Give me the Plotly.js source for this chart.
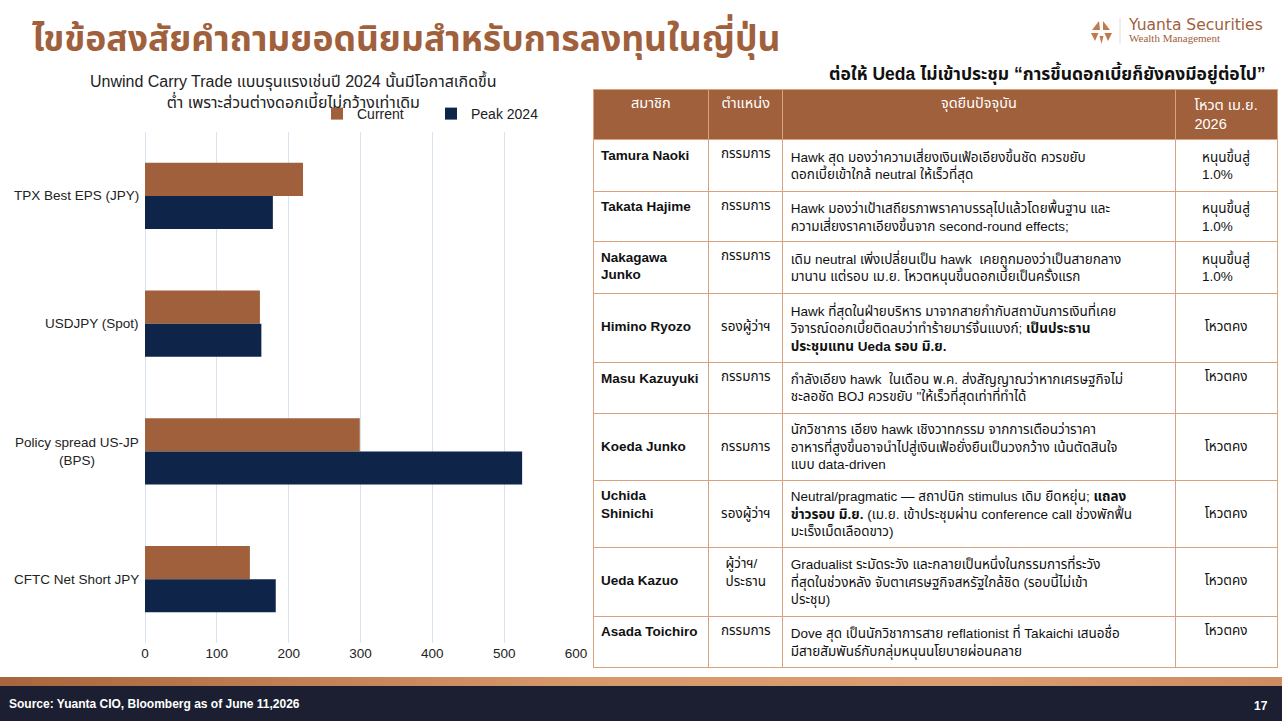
<!DOCTYPE html>
<html>
<head>
<meta charset="utf-8">
<script src="https://cdn.plot.ly/plotly-3.0.1.min.js"></script>
<style>
html,body{margin:0;padding:0;background:#fff;}
#chart{width:1282px;height:721px;}
</style>
</head>
<body>
<div id="chart"></div>
<script>
// ---- Chart data ----
const categories = ['TPX Best EPS (JPY)', 'USDJPY (Spot)', 'Policy spread US-JP<br>(BPS)', 'CFTC Net Short JPY'];
const currentValues = [220, 160, 299, 146];
const peak2024Values = [178, 162, 525, 182];
const seriesNames = ['Current', 'Peak 2024'];
const xTickValues = [0, 100, 200, 300, 400, 500, 600];

// ---- Table data ----
const tableHeaders = ['สมาชิก', 'ตำแหน่ง', 'จุดยืนปัจจุบัน', 'โหวต เม.ย.<br>2026'];
const members = ['Tamura Naoki', 'Takata Hajime', 'Nakagawa<br>Junko', 'Himino Ryozo', 'Masu Kazuyuki',
  'Koeda Junko', 'Uchida<br>Shinichi', 'Ueda Kazuo', 'Asada Toichiro'];
const positions = ['กรรมการ', 'กรรมการ', 'กรรมการ', 'รองผู้ว่าฯ', 'กรรมการ', 'กรรมการ', 'รองผู้ว่าฯ', 'ผู้ว่าฯ/<br>ประธาน', 'กรรมการ'];
const stances = [
  'Hawk สุด มองว่าความเสี่ยงเงินเฟ้อเอียงขึ้นชัด ควรขยับ<br>ดอกเบี้ยเข้าใกล้ neutral ให้เร็วที่สุด',
  'Hawk มองว่าเป้าเสถียรภาพราคาบรรลุไปแล้วโดยพื้นฐาน และ<br>ความเสี่ยงราคาเอียงขึ้นจาก second-round effects;',
  'เดิม neutral เพิ่งเปลี่ยนเป็น hawk  เคยถูกมองว่าเป็นสายกลาง<br>มานาน แต่รอบ เม.ย. โหวตหนุนขึ้นดอกเบี้ยเป็นครั้งแรก',
  'Hawk ที่สุดในฝ่ายบริหาร มาจากสายกำกับสถาบันการเงินที่เคย<br>วิจารณ์ดอกเบี้ยติดลบว่าทำร้ายมาร์จิ้นแบงก์; <b>เป็นประธาน</b><br><b>ประชุมแทน Ueda รอบ มิ.ย.</b>',
  'กำลังเอียง hawk  ในเดือน พ.ค. ส่งสัญญาณว่าหากเศรษฐกิจไม่<br>ชะลอชัด BOJ ควรขยับ "ให้เร็วที่สุดเท่าที่ทำได้',
  'นักวิชาการ เอียง hawk เชิงวาทกรรม จากการเตือนว่าราคา<br>อาหารที่สูงขึ้นอาจนำไปสู่เงินเฟ้อยั่งยืนเป็นวงกว้าง เน้นตัดสินใจ<br>แบบ data-driven',
  'Neutral/pragmatic — สถาปนิก stimulus เดิม ยืดหยุ่น; <b>แถลง</b><br><b>ข่าวรอบ มิ.ย.</b> (เม.ย. เข้าประชุมผ่าน conference call ช่วงพักฟื้น<br>มะเร็งเม็ดเลือดขาว)',
  'Gradualist ระมัดระวัง และกลายเป็นหนึ่งในกรรมการที่ระวัง<br>ที่สุดในช่วงหลัง จับตาเศรษฐกิจสหรัฐใกล้ชิด (รอบนี้ไม่เข้า<br>ประชุม)',
  'Dove สุด เป็นนักวิชาการสาย reflationist ที่ Takaichi เสนอชื่อ<br>มีสายสัมพันธ์กับกลุ่มหนุนนโยบายผ่อนคลาย'
];
const votes = ['หนุนขึ้นสู่<br>1.0%', 'หนุนขึ้นสู่<br>1.0%', 'หนุนขึ้นสู่<br>1.0%', 'โหวตคง', 'โหวตคง', 'โหวตคง', 'โหวตคง', 'โหวตคง', 'โหวตคง'];

// ---- Texts ----
const mainTitle = 'ไขข้อสงสัยคำถามยอดนิยมสำหรับการลงทุนในญี่ปุ่น';
const tableTitle = 'ต่อให้ Ueda ไม่เข้าประชุม “การขึ้นดอกเบี้ยก็ยังคงมีอยู่ต่อไป”';
const chartTitle = 'Unwind Carry Trade แบบรุนแรงเช่นปี 2024 นั้นมีโอกาสเกิดขึ้น<br>ต่ำ เพราะส่วนต่างดอกเบี้ยไม่กว้างเท่าเดิม';
const sourceText = 'Source: Yuanta CIO, Bloomberg as of June 11,2026';
const pageNumber = '17';

const BROWN = '#A0603C';
const NAVY = '#0E2549';
const FONT = 'Liberation Sans, Arial, Noto Sans Thai, sans-serif';
const W = 1282, H = 721;
const px = v => v / W;
const py = v => 1 - v / H;

// helpers for table text
const nLines = s => s.split(/<br>/i).length;
const bold = s => s.split('<br>').map(t => '<b>' + t.replace(/ /g, '\u00a0') + '</b>').join('<br>');
// centre shorter cells vertically in tall rows with leading blank lines
function centre(col) {
  return col.map((s, i) => {
    const rowLines = Math.max(nLines(members[i]), nLines(positions[i]), nLines(stances[i]), nLines(votes[i]));
    const pad = Math.floor((rowLines - nLines(s)) / 2);
    return '\u00a0<br>'.repeat(pad) + s;
  });
}

const traces = [
  {
    type: 'bar', orientation: 'h', name: seriesNames[0],
    y: categories, x: currentValues,
    marker: {color: BROWN}, hoverinfo: 'x'
  },
  {
    type: 'bar', orientation: 'h', name: seriesNames[1],
    y: categories, x: peak2024Values,
    marker: {color: NAVY}, hoverinfo: 'x'
  },
  {
    type: 'table',
    domain: {x: [px(593), px(1278)], y: [py(672), py(89)]},
    columnwidth: [116, 74, 393, 102],
    header: {
      values: tableHeaders,
      align: 'center',
      height: 43,
      fill: {color: BROWN},
      line: {color: '#D9A27E', width: 1},
      font: {family: FONT, size: 14.5, color: '#ffffff'}
    },
    cells: {
      values: [centre(members.map(bold)), centre(positions), stances, centre(votes)],
      align: ['left', 'center', 'left', 'center'],
      height: 36,
      fill: {color: '#ffffff'},
      line: {color: '#D9A27E', width: 1},
      font: {family: FONT, size: 13.5, color: '#111111'}
    }
  }
];

const annotations = [
  {text: mainTitle, xref: 'paper', yref: 'paper', x: px(30), y: py(40), xanchor: 'left', yanchor: 'middle',
   showarrow: false, font: {family: 'Noto Sans Thai, Noto Sans, sans-serif', size: 35.5, color: BROWN, weight: 700}},
  {text: '<b>' + tableTitle + '</b>', xref: 'paper', yref: 'paper', x: px(1268), y: py(73), xanchor: 'right', yanchor: 'middle',
   showarrow: false, font: {family: FONT, size: 17.5, color: '#111111'}},
  {text: chartTitle, xref: 'paper', yref: 'paper', x: px(293), y: py(91), xanchor: 'center', yanchor: 'middle',
   showarrow: false, align: 'center', font: {family: FONT, size: 16, color: '#222222'}},
  {text: '<b>' + sourceText + '</b>', xref: 'paper', yref: 'paper', x: px(7), y: py(704), xanchor: 'left', yanchor: 'middle',
   showarrow: false, font: {family: FONT, size: 12, color: '#ffffff'}},
  {text: '<b>' + pageNumber + '</b>', xref: 'paper', yref: 'paper', x: px(1270), y: py(706), xanchor: 'right', yanchor: 'middle',
   showarrow: false, font: {family: FONT, size: 12, color: '#ffffff'}},
  {text: 'Yuanta Securities', xref: 'paper', yref: 'paper', x: px(1126), y: py(25), xanchor: 'left', yanchor: 'middle',
   showarrow: false, font: {family: 'DejaVu Sans, sans-serif', size: 15.5, color: BROWN}},
  {text: 'Wealth Management', xref: 'paper', yref: 'paper', x: px(1127), y: py(38), xanchor: 'left', yanchor: 'middle',
   showarrow: false, font: {family: 'Liberation Serif, serif', size: 11, color: BROWN}}
];
// y-axis category labels (right-aligned block, centred lines)
categories.forEach(c => annotations.push({
  text: c, xref: 'paper', yref: 'y', x: px(141), y: c, xanchor: 'right', yanchor: 'middle', align: 'center',
  showarrow: false, font: {family: FONT, size: 13.5, color: '#222222'}
}));

const shapes = [
  // navy footer bar
  {type: 'rect', xref: 'paper', yref: 'paper', x0: 0, x1: 1, y0: 0, y1: py(686), line: {width: 0}, fillcolor: '#1B1F31', layer: 'below'},
  // logo separator
  {type: 'line', xref: 'paper', yref: 'paper', x0: px(1120), x1: px(1120), y0: py(18), y1: py(44), line: {color: '#E8DCD2', width: 1}}
];
// copper band shaded left to right (smooth steps between colour stops)
const bandStops = [[0, [168, 101, 61]], [0.45, [215, 152, 106]], [0.75, [220, 158, 112]], [1, [206, 138, 96]]];
const bandSteps = 80;
for (let i = 0; i < bandSteps; i++) {
  const t = (i + 0.5) / bandSteps;
  let k = 0;
  while (k < bandStops.length - 2 && t > bandStops[k + 1][0]) k++;
  const [t0, c0] = bandStops[k], [t1, c1] = bandStops[k + 1];
  const f = (t - t0) / (t1 - t0);
  const col = c0.map((v, j) => Math.round(v + (c1[j] - v) * f));
  shapes.push({
    type: 'rect', xref: 'paper', yref: 'paper', x0: i / bandSteps, x1: (i + 1) / bandSteps + 0.002,
    y0: py(686), y1: py(677), line: {width: 0}, fillcolor: 'rgb(' + col.join(',') + ')', layer: 'below'
  });
}
// logo emblem as small triangles (pixel positions)
function tri(pts) {
  return 'M ' + pts.map(p => px(p[0]) + ',' + py(p[1])).join(' L ') + ' Z';
}
[
  [[1092, 30], [1099, 21], [1100, 30]],
  [[1103, 21], [1110, 30], [1103, 30]],
  [[1091, 33], [1098.5, 33], [1095, 41]],
  [[1104.5, 33], [1112, 33], [1108, 41]],
  [[1099.5, 36], [1103.5, 36], [1101.5, 44]]
].forEach(t => shapes.push({type: 'path', xref: 'paper', yref: 'paper', path: tri(t), fillcolor: '#C07B4C', line: {width: 0}}));

const layout = {
  width: W, height: H,
  margin: {l: 0, r: 0, t: 0, b: 0},
  paper_bgcolor: '#ffffff', plot_bgcolor: '#ffffff',
  barmode: 'group', bargap: 0.48, bargroupgap: 0,
  xaxis: {
    domain: [px(145), px(576)], range: [0, 600], tickvals: xTickValues, ticks: '',
    showgrid: true, gridcolor: '#DCE3F0', gridwidth: 1, zeroline: true, zerolinecolor: '#DCE3F0', zerolinewidth: 1,
    showline: false, tickfont: {family: FONT, size: 13.5, color: '#222222'}, fixedrange: true
  },
  yaxis: {
    domain: [py(643), py(132)], type: 'category', categoryorder: 'array', categoryarray: categories,
    autorange: 'reversed', showticklabels: false, showgrid: false, zeroline: false, showline: false, ticks: '', fixedrange: true
  },
  showlegend: true,
  legend: {
    orientation: 'h', x: px(317), y: py(114), xanchor: 'left', yanchor: 'middle',
    font: {family: FONT, size: 14, color: '#222222'}, bgcolor: 'rgba(0,0,0,0)',
    entrywidth: 69, entrywidthmode: 'pixels', traceorder: 'normal'
  },
  annotations: annotations,
  shapes: shapes
};

Plotly.newPlot('chart', traces, layout, {displayModeBar: false, staticPlot: true});
</script>
</body>
</html>
